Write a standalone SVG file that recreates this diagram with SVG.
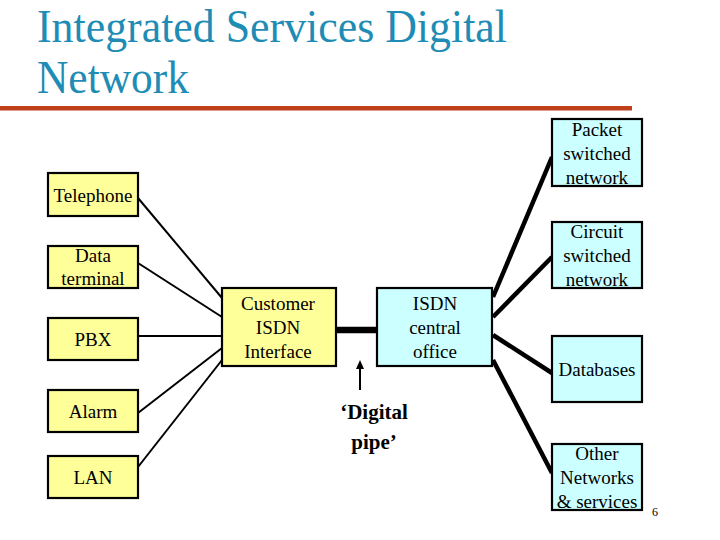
<svg xmlns="http://www.w3.org/2000/svg" width="720" height="540" viewBox="0 0 720 540">
<defs>
<style>
.t{font-family:"Liberation Serif","Tinos","Times New Roman","DejaVu Serif",serif;font-size:19px;fill:#000;text-anchor:middle}
.f{font-family:"Liberation Serif","Tinos","Times New Roman","DejaVu Serif",serif}
.y{fill:#FFFF99;stroke:#000;stroke-width:2.2}
.c{fill:#CCFFFF;stroke:#000;stroke-width:2.2}
.thin{stroke:#000;stroke-width:2;fill:none}
.thick{stroke:#000;stroke-width:4.5;fill:none}
</style>
</defs>
<rect width="720" height="540" fill="#fff"/>
<g id="title" class="f" font-size="46" fill="#1E8CB4">
<text x="37" y="42" textLength="470" lengthAdjust="spacingAndGlyphs">Integrated Services Digital</text>
<text x="37" y="93" textLength="152" lengthAdjust="spacingAndGlyphs">Network</text>
</g>
<rect x="0" y="106" width="632" height="4.5" fill="#C0401A"/>
<g id="connectors">
<line class="thin" x1="138" y1="198" x2="222" y2="298"/>
<line class="thin" x1="138" y1="263" x2="222" y2="317"/>
<line class="thin" x1="138" y1="336" x2="222" y2="336"/>
<line class="thin" x1="138" y1="413" x2="222" y2="348"/>
<line class="thin" x1="138" y1="467" x2="222" y2="360"/>
<line stroke="#000" stroke-width="6.5" x1="336" y1="330" x2="377" y2="330"/>
<line class="thick" x1="493" y1="297" x2="552" y2="157"/>
<line class="thick" x1="493" y1="317" x2="552" y2="257"/>
<line class="thick" x1="493" y1="335" x2="552" y2="373"/>
<line class="thick" x1="493" y1="360" x2="552" y2="473"/>
<line class="thin" x1="360" y1="390" x2="360" y2="366"/>
<polygon points="360,360 356,369 364,369" fill="#000"/>
</g>
<g id="telephone"><rect class="y" x="48" y="173" width="90" height="43"/><text class="t" x="93" y="202">Telephone</text></g>
<g id="data-terminal"><rect class="y" x="48" y="246" width="90" height="42"/><text class="t" x="93" y="262">Data</text><text class="t" x="93" y="285">terminal</text></g>
<g id="pbx"><rect class="y" x="48" y="318" width="90" height="42"/><text class="t" x="93" y="346">PBX</text></g>
<g id="alarm"><rect class="y" x="48" y="390" width="90" height="42"/><text class="t" x="93" y="418">Alarm</text></g>
<g id="lan"><rect class="y" x="48" y="456" width="90" height="42"/><text class="t" x="93" y="484">LAN</text></g>
<g id="customer-isdn"><rect class="y" x="222" y="288" width="114" height="78"/><text class="t" x="278" y="310">Customer</text><text class="t" x="278" y="334">ISDN</text><text class="t" x="278" y="358">Interface</text></g>
<g id="isdn-office"><rect class="c" x="377" y="288" width="115" height="78"/><text class="t" x="435" y="310">ISDN</text><text class="t" x="435" y="334">central</text><text class="t" x="435" y="358">office</text></g>
<g id="packet"><rect class="c" x="552" y="119" width="90" height="67"/><text class="t" x="597" y="136">Packet</text><text class="t" x="597" y="160">switched</text><text class="t" x="597" y="184">network</text></g>
<g id="circuit"><rect class="c" x="552" y="222" width="90" height="66"/><text class="t" x="597" y="238">Circuit</text><text class="t" x="597" y="262">switched</text><text class="t" x="597" y="286">network</text></g>
<g id="databases"><rect class="c" x="552" y="336" width="90" height="66"/><text class="t" x="597" y="376">Databases</text></g>
<g id="other"><rect class="c" x="552" y="444" width="90" height="66"/><text class="t" x="597" y="460">Other</text><text class="t" x="597" y="484">Networks</text><text class="t" x="597" y="508">&amp; services</text></g>
<g id="pipe-label" class="f" font-size="21" font-weight="bold" text-anchor="middle">
<text x="374" y="419">‘Digital</text>
<text x="374" y="449">pipe’</text>
</g>
<text class="f" x="655" y="516" font-size="12" text-anchor="middle">6</text>
</svg>
